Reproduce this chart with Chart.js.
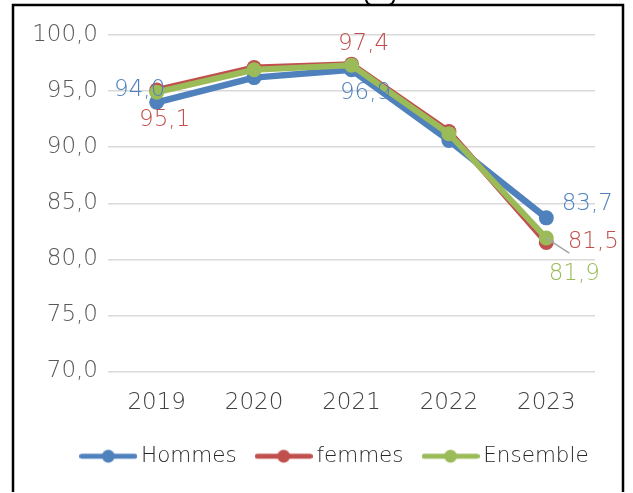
<!DOCTYPE html>
<html lang="fr">
<head>
<meta charset="UTF-8">
<title>Hommes / femmes / Ensemble</title>
<script src="https://cdn.jsdelivr.net/npm/chart.js@4.4.0/dist/chart.umd.min.js"></script>
<style>
  html, body { margin: 0; padding: 0; background: #fff; overflow: hidden; width: 633px; height: 493px; }
  canvas { display: block; }
</style>
</head>
<body>
<canvas id="chart" width="633" height="493"></canvas>
<script>
// data
const years = ['2019', '2020', '2021', '2022', '2023'];
const hommes = [94.0, 96.2, 96.9, 90.6, 83.7];
const femmes = [95.1, 97.1, 97.4, 91.4, 81.5];
const ensemble = [94.9, 96.9, 97.3, 91.2, 81.9];
const yTicks = [70, 75, 80, 85, 90, 95, 100];

const FONT = "'DejaVu Sans', sans-serif";
const colors = ['#4f81bd', '#c0504d', '#9bbb59'];

// which values get a label, and where it sits relative to the point
const labelSpots = [
    { ds: 0, i: 0, dx: -17, dy: -12 },
    { ds: 1, i: 0, dx: 8, dy: 30 },
    { ds: 1, i: 2, dx: 12, dy: -20 },
    { ds: 0, i: 2, dx: 14, dy: 23 },
    { ds: 0, i: 4, dx: 41, dy: -14 },
    { ds: 1, i: 4, dx: 47, dy: 0 },
    { ds: 2, i: 4, dx: 28, dy: 36, leader: [23, 15] }
];

const fmt = v => v.toFixed(1).replace('.', ',');

function legendIcon(color) {
    const c = document.createElement('canvas');
    c.width = 58; c.height = 18;
    const g = c.getContext('2d');
    g.strokeStyle = color;
    g.lineWidth = 5;
    g.lineCap = 'round';
    g.beginPath(); g.moveTo(2.5, 9); g.lineTo(55.5, 9); g.stroke();
    g.fillStyle = color;
    g.beginPath(); g.arc(29, 9, 6.5, 0, Math.PI * 2); g.fill();
    return c;
}
const icons = colors.map(legendIcon);

// outer frame (left, top, right only) drawn inside the canvas
const framePlugin = {
    id: 'frame',
    afterDraw(chart) {
        const ctx = chart.ctx;
        ctx.save();
        ctx.strokeStyle = '#000';
        ctx.lineWidth = 2.5;
        ctx.lineCap = 'butt';
        ctx.beginPath();
        ctx.moveTo(13, 492);
        ctx.lineTo(13, 5);
        ctx.lineTo(623, 5);
        ctx.lineTo(623, 492);
        ctx.stroke();
        // small round shape above the frame
        ctx.lineWidth = 2;
        ctx.beginPath();
        ctx.moveTo(366, 0);
        ctx.quadraticCurveTo(367, 4, 371, 5);
        ctx.moveTo(394, 0);
        ctx.quadraticCurveTo(393, 4, 389, 5);
        ctx.stroke();
        ctx.restore();
    }
};

const labelPlugin = {
    id: 'valueLabels',
    afterLayout(chart) {
        // Excel legend sits further right than Chart.js centres it
        chart.legend.left += 40;
        chart.legend.right += 40;
    },
    afterDatasetsDraw(chart) {
        const ctx = chart.ctx;
        ctx.save();
        ctx.font = '200 23px ' + FONT;
        ctx.textAlign = 'center';
        ctx.textBaseline = 'middle';
        labelSpots.forEach(s => {
            const pt = chart.getDatasetMeta(s.ds).data[s.i];
            const val = chart.data.datasets[s.ds].data[s.i];
            if (s.leader) {
                ctx.strokeStyle = '#a6a6a6';
                ctx.lineWidth = 1.5;
                ctx.beginPath();
                ctx.moveTo(pt.x, pt.y);
                ctx.lineTo(pt.x + s.leader[0], pt.y + s.leader[1]);
                ctx.stroke();
            }
            ctx.fillStyle = colors[s.ds];
            ctx.fillText(fmt(val), pt.x + s.dx, pt.y + s.dy);
        });
        ctx.restore();
    }
};

const series = [
    { label: 'Hommes', data: hommes, order: 3, width: 6.5 },
    { label: 'femmes', data: femmes, order: 2, width: 6 },
    { label: 'Ensemble', data: ensemble, order: 1, width: 6 }
];

new Chart(document.getElementById('chart'), {
    type: 'line',
    data: {
        labels: years,
        datasets: series.map((s, k) => ({
            label: s.label,
            data: s.data,
            order: s.order,
            borderColor: colors[k],
            backgroundColor: colors[k],
            borderWidth: s.width,
            borderJoinStyle: 'round',
            borderCapStyle: 'round',
            pointRadius: 7.5,
            pointHoverRadius: 7.5,
            pointBorderWidth: 0,
            tension: 0
        }))
    },
    options: {
        responsive: false,
        devicePixelRatio: 1,
        animation: false,
        events: [],
        layout: { padding: { top: 35, right: 38, bottom: 16, left: 0 } },
        scales: {
            x: {
                offset: true,
                grid: { display: false },
                border: { display: false },
                afterFit: scale => { scale.height = 49; },
                ticks: { color: '#404040', padding: 10, font: { family: FONT, size: 23, weight: 200 } }
            },
            y: {
                min: 70,
                max: 100,
                afterBuildTicks: scale => { scale.ticks = yTicks.map(v => ({ value: v })); },
                afterFit: scale => { scale.width = 108; },
                grid: { color: '#d9d9d9', lineWidth: 1.5, drawTicks: false },
                border: { display: false },
                ticks: {
                    color: '#595959',
                    padding: 10,
                    font: { family: FONT, size: 23, weight: 200 },
                    callback: v => fmt(v)
                }
            }
        },
        plugins: {
            tooltip: { enabled: false },
            legend: {
                position: 'bottom',
                labels: {
                    usePointStyle: true,
                    pointStyleWidth: 44,
                    boxHeight: 18,
                    padding: 25,
                    color: '#262626',
                    font: { family: FONT, size: 21.5, weight: 200 },
                    generateLabels: chart => chart.data.datasets.map((d, k) => ({
                        text: d.label,
                        pointStyle: icons[k],
                        fillStyle: colors[k],
                        strokeStyle: colors[k],
                        lineWidth: 0,
                        fontColor: '#262626',
                        datasetIndex: k
                    }))
                }
            }
        }
    },
    plugins: [framePlugin, labelPlugin]
});
</script>
</body>
</html>
